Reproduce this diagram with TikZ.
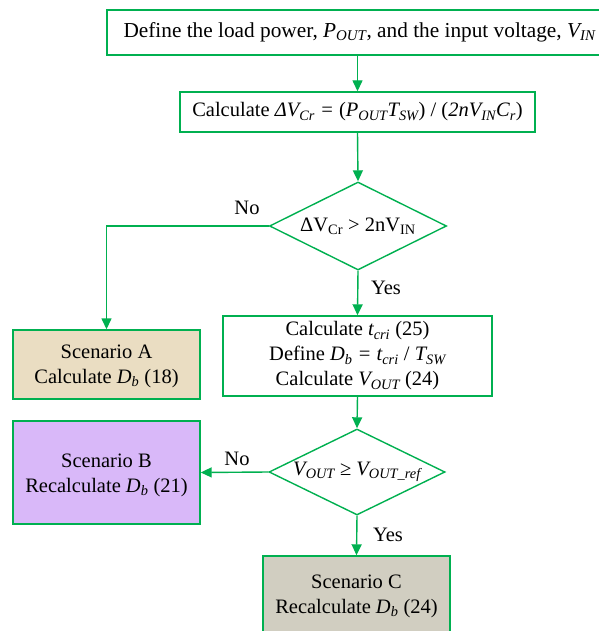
\documentclass[tikz,border=0pt]{standalone}
\usepackage{fontspec}
\setmainfont{Liberation Serif}
\usetikzlibrary{arrows.meta,shapes.geometric}
\definecolor{lgreen}{HTML}{00B050}
\definecolor{tanfill}{HTML}{EADDC2}
\definecolor{lavfill}{HTML}{D9B8F9}
\definecolor{grayfill}{HTML}{D1CEC1}
\newcommand{\sbs}[1]{\textsubscript{#1}}
\begin{document}
\begin{tikzpicture}[x=1pt,y=-1pt,
  font=\fontsize{20.5}{25}\selectfont,
  box/.style={draw=lgreen,line width=1.4pt,fill=white,align=center,inner sep=0pt},
  dia/.style={draw=lgreen,line width=1.4pt,fill=white,diamond,inner sep=0pt},
  conn/.style={draw=lgreen,line width=1.4pt,-{Triangle[width=10pt,length=11pt]}},
  lbl/.style={font=\fontsize{20.5}{24}\selectfont}]
\useasboundingbox (0,0) rectangle (598,631);
\node[box,minimum width=505pt,minimum height=45pt,font=\fontsize{21.3}{25}\selectfont] (b1) at (359.5,32.5)
  {Define the load power, \textit{P\sbs{OUT}}, and the input voltage, \textit{V\sbs{IN}}};
\node[box,minimum width=355pt,minimum height=40pt] (b2) at (357.5,112)
  {Calculate \textit{ΔV\sbs{Cr} = }(\textit{P\sbs{OUT}T\sbs{SW}}) / (\textit{2nV\sbs{IN}C\sbs{r}})};
\node[dia,minimum width=177pt,minimum height=88pt] (d1) at (358,226) {};
\node (d1t) at (d1) {ΔV\sbs{Cr} > 2nV\sbs{IN}};
\node[box,minimum width=269pt,minimum height=80pt] (b3) at (357.5,356)
  {Calculate \textit{t\sbs{cri}} (25)\\Define \textit{D\sbs{b} = t\sbs{cri}} / \textit{T\sbs{SW}}\\Calculate \textit{V\sbs{OUT}} (24)};
\node[box,fill=tanfill,minimum width=187pt,minimum height=69pt] (bA) at (106.5,364.5) {};
\node[align=center] (bAt) at ([yshift=-2pt]bA.center) {Scenario A\\Calculate \textit{D\sbs{b}} (18)};
\node[dia,minimum width=176pt,minimum height=86pt] (d2) at (357,472) {};
\node (d2t) at (d2) {\textit{V\sbs{OUT}} ≥ \textit{V\sbs{OUT\_ref}}};
\node[box,fill=lavfill,minimum width=187pt,minimum height=103pt] (bB) at (106.5,472.5) {};
\node[align=center] (bBt) at ([yshift=-3pt]bB.center) {Scenario B\\Recalculate \textit{D\sbs{b}} (21)};
\node[box,fill=grayfill,minimum width=187pt,minimum height=80pt] (bC) at (356.5,596)
  {Scenario C\\Recalculate \textit{D\sbs{b}} (24)};
\draw[conn] (b2.north |- b1.south) -- (b2.north);
\draw[conn] (b2.south) -- (d1.north);
\draw[conn] (d1.west) -| (bA.north);
\draw[conn] (d1.south) -- (b3.north);
\draw[conn] (b3.south) -- (d2.north);
\draw[conn] (d2.west) -- (bB.east);
\draw[conn] (d2.south) -- (bC.north);
\node[lbl] (no1) at (247,208) {No};
\node[lbl] (yes1) at (386,288) {Yes};
\node[lbl] (no2) at (237,459) {No};
\node[lbl] (yes2) at (388,535) {Yes};
\end{tikzpicture}
\end{document}
